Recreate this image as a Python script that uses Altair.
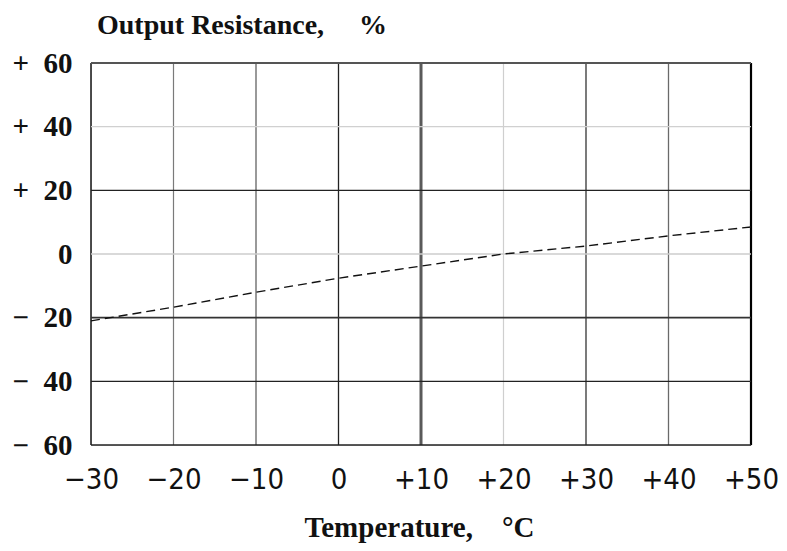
import altair as alt
import pandas as pd

# data
temps = [-30, -20, -10, 0, 10, 20, 30, 40, 50]
resistance = [-21.0, -16.7, -12.0, -7.6, -3.8, 0.0, 2.5, 5.7, 8.5]

x_ticks = [-30, -20, -10, 0, 10, 20, 30, 40, 50]
y_ticks = [-60, -40, -20, 0, 20, 40, 60]

# grid styles (one per tick line)
x_grid_colors = ["#222222", "#7a7a7a", "#555555", "#222222", "#5a5a5a", "#cfcfcf", "#333333", "#6a6a6a", "#000000"]
x_grid_widths = [1.6, 1.2, 1.2, 1.3, 3.0, 1.2, 1.3, 1.3, 2.2]
y_grid_colors = ["#222222", "#222222", "#333333", "#cccccc", "#222222", "#d0d0d0", "#555555"]
y_grid_widths = [1.6, 1.3, 1.8, 1.3, 1.3, 1.2, 2.0]

line_df = pd.DataFrame({"t": temps, "r": resistance})
vgrid = pd.DataFrame({"t": x_ticks, "c": x_grid_colors, "w": x_grid_widths})
hgrid = pd.DataFrame({"r": y_ticks, "c": y_grid_colors, "w": y_grid_widths})

xscale = alt.Scale(domain=[-30, 50], nice=False, zero=False)
yscale = alt.Scale(domain=[-60, 60], nice=False, zero=False)

x_axis = alt.Axis(
    values=x_ticks,
    labelExpr="datum.value > 0 ? '+' + datum.value : (datum.value < 0 ? '\u2212' + abs(datum.value) : '0')",
    grid=False,
    domain=False,
    ticks=False,
    labelFont="DejaVu Sans Condensed, Liberation Serif",
    labelFontSize=29,
    labelColor="#111111",
    labelPadding=20,
    labelFlush=False,
    labelOverlap=False,
    title="Temperature,\u00a0\u00a0\u00a0\u00a0\u00b0C",
    titleFont="Liberation Serif",
    titleFontSize=29,
    titleFontWeight="bold",
    titleColor="#111111",
    titleX=328,
    titleY=91,
    titleAlign="center",
    titleBaseline="alphabetic",
)
y_axis = alt.Axis(
    values=y_ticks,
    labelExpr="datum.value > 0 ? '+\u2002' + datum.value : (datum.value < 0 ? '\u2212\u2002' + abs(datum.value) : '0')",
    grid=False,
    domain=False,
    ticks=False,
    labelFont="Liberation Serif",
    labelFontSize=29,
    labelFontWeight="bold",
    labelColor="#111111",
    labelPadding=19,
    labelOverlap=False,
    title=None,
)

line = alt.Chart(line_df).mark_line(color="#111111", strokeWidth=1.4, strokeDash=[9, 5]).encode(
    x=alt.X("t:Q", scale=xscale, axis=x_axis),
    y=alt.Y("r:Q", scale=yscale, axis=y_axis),
)

vlines = alt.Chart(vgrid).mark_rule().encode(
    x=alt.X("t:Q", scale=xscale, axis=x_axis),
    color=alt.Color("c:N", scale=None),
    strokeWidth=alt.StrokeWidth("w:Q", scale=None),
)
hlines = alt.Chart(hgrid).mark_rule().encode(
    y=alt.Y("r:Q", scale=yscale, axis=y_axis),
    color=alt.Color("c:N", scale=None),
    strokeWidth=alt.StrokeWidth("w:Q", scale=None),
)

chart = alt.layer(vlines, hlines, line).properties(
    width=660,
    height=382,
    autosize=alt.AutoSizeParams(type="none"),
    padding={"left": 83, "top": 55, "right": 28, "bottom": 98},
    title=alt.TitleParams(
        "Output Resistance,\u00a0\u00a0\u00a0\u00a0\u00a0%",
        anchor="start",
        frame="group",
        font="Liberation Serif",
        fontSize=28,
        fontWeight="bold",
        color="#111111",
        offset=9,
        dx=6,
    ),
).configure_view(stroke=None).configure(background="white")

chart.save("out.html", embed_options={"renderer": "svg", "actions": False})
